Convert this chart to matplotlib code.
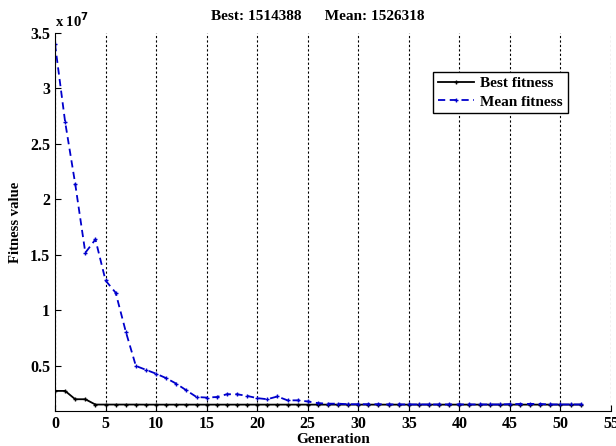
import numpy as np
import matplotlib.pyplot as plt

plt.rcParams['font.family'] = ['Liberation Serif', 'DejaVu Serif']
plt.rcParams['font.weight'] = 'bold'

# GA fitness per generation (values in units of 1e7)
generations = np.arange(0, 53)
best_fitness = [0.275, 0.275, 0.20, 0.20, 0.152, 0.152, 0.152, 0.152, 0.152] + [0.1514] * 44
mean_fitness = [3.40, 2.70, 2.14, 1.52, 1.64, 1.27, 1.16, 0.81, 0.50, 0.465,
                0.43, 0.39, 0.34, 0.28, 0.22, 0.215, 0.22, 0.245, 0.245, 0.23,
                0.21, 0.20, 0.225, 0.19, 0.19, 0.18, 0.165, 0.16, 0.16, 0.155,
                0.155, 0.155, 0.155, 0.153, 0.153, 0.153, 0.153, 0.153, 0.153, 0.153,
                0.153, 0.153, 0.153, 0.153, 0.153, 0.156, 0.157, 0.158, 0.157, 0.153,
                0.153, 0.153, 0.153]
best_value = 1514388
mean_value = 1526318
x_ticks = np.arange(0, 56, 5)
y_ticks = [0.5, 1, 1.5, 2, 2.5, 3, 3.5]

fig = plt.figure(figsize=(6.16, 4.46), dpi=100)
ax = fig.add_axes([55 / 616, 1 - 411 / 446, 556 / 616, 378 / 446])

ax.plot(generations, best_fitness, color='black', lw=1.3, marker='+', ms=3.5,
        mew=1, label='Best fitness')
ax.plot(generations, mean_fitness, color='#0000cc', lw=1.3, ls=(0, (4, 2.5)),
        marker='+', ms=3.5, mew=1, label='Mean fitness')

ax.set_xlim(0, 55)
ax.set_ylim(0.094, 3.5)
ax.set_xticks(x_ticks)
ax.set_yticks(y_ticks)
ax.set_yticklabels(['0.5', '1', '1.5', '2', '2.5', '3', '3.5'])
ax.tick_params(direction='in', labelsize=11.5, length=4)
for lbl in ax.get_xticklabels() + ax.get_yticklabels():
    lbl.set_fontweight('bold')

ax.spines['top'].set_visible(False)
ax.spines['right'].set_visible(False)
ax.xaxis.grid(True, color='black', ls=(0, (2, 2)), lw=0.8)
ax.set_axisbelow(True)

ax.set_xlabel('Generation', fontsize=11, fontweight='bold', labelpad=1)
ax.set_ylabel('Fitness value', fontsize=10.5, fontweight='bold', labelpad=6)

fig.text(318 / 616, 1 - 16 / 446, f'Best: {best_value}      Mean: {mean_value}',
         ha='center', va='center', fontsize=11, fontweight='bold')
fig.text(55 / 616, 1 - 21 / 446, r'x 10$^{7}$', ha='left', va='center',
         fontsize=10.5, fontweight='bold')

leg = ax.legend(loc='upper left', bbox_to_anchor=(433 / 616, 1 - 72 / 446),
                bbox_transform=fig.transFigure, borderaxespad=0, fancybox=False,
                edgecolor='black', framealpha=1, prop={'size': 11, 'weight': 'bold'},
                handlelength=2.4, borderpad=0.3, labelspacing=0.3, handletextpad=0.4)
leg.get_frame().set_linewidth(1)

fig.savefig('out.png', dpi=100)
